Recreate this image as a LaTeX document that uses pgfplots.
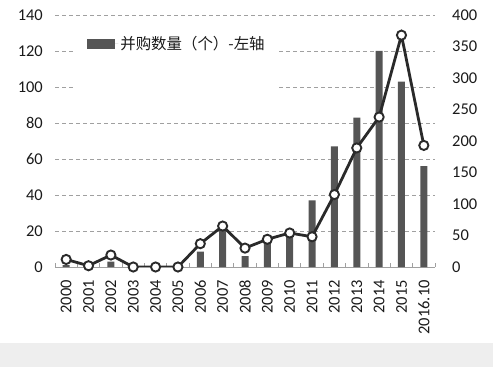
\documentclass[border=0pt]{standalone}
\usepackage{pgfplots}
\pgfplotsset{compat=1.18}
\usepackage{fontspec}
\setmainfont{Carlito}
\newfontfamily\cjk{Noto Sans CJK SC}
\definecolor{barc}{HTML}{555555}
\definecolor{linec}{HTML}{2A2A2A}
\definecolor{gridc}{HTML}{A0A0A0}
\definecolor{txt}{HTML}{1A1A1A}
\definecolor{band}{HTML}{EEEEEE}
\begin{document}
\begin{tikzpicture}
\fill[band] (-55bp,-100bp) rectangle (438bp,-76bp);
\begin{axis}[
  scale only axis, width=380bp, height=252bp,
  at={(0,0)}, anchor=south west,
  xmin=-0.5, xmax=16.5, ymin=0, ymax=140,
  font=\fontsize{16.5}{19}\selectfont, text=txt,
  /pgf/number format/assume math mode=true,
  ytick={0,20,...,140},
  xtick={0,...,16},
  xticklabels={2000,2001,2002,2003,2004,2005,2006,2007,2008,2009,2010,2011,2012,2013,2014,2015,2016.10},
  xticklabel style={rotate=90, anchor=east, inner sep=0pt},
  xticklabel shift=13bp,
  yticklabel style={inner sep=0pt},
  yticklabel shift=12bp,
  minor xtick={-0.5,0.5,...,16.5},
  tick align=inside,
  major tick length=0pt,
  minor tick length=4bp,
  minor x tick style={gridc, line width=0.8bp},
  axis x line*=bottom,
  axis y line*=left,
  x axis line style={gridc, line width=1bp},
  y axis line style={draw=none},
  ymajorgrids,
  grid style={gridc, dash pattern=on 4bp off 3bp, line width=0.8bp},
  legend style={at={(0.053,0.94)}, anchor=north west, draw=none, fill=white,
    font=\cjk\fontsize{15.5}{19}\selectfont, row sep=20bp, inner xsep=12bp, inner ysep=4bp},
  legend cell align=left,
]
\addplot[ybar, bar width=7bp, fill=barc, draw=none,
  legend image code/.code={\fill[barc] (0bp,-5bp) rectangle (28bp,5bp); \path (0bp,0bp) -- (31bp,0bp);}]
  coordinates {(0,1) (1,0) (2,3) (3,0) (4,0) (5,0) (6,8.5) (7,21) (8,6) (9,15) (10,18) (11,37) (12,67) (13,83) (14,120) (15,103) (16,56)};
\addlegendentry{并购数量（个）-左轴}
\addlegendimage{empty legend}
\addlegendentry{\phantom{X}}
\end{axis}
\begin{axis}[
  scale only axis, width=380bp, height=252bp,
  at={(0,0)}, anchor=south west,
  xmin=-0.5, xmax=16.5, ymin=0, ymax=400,
  font=\fontsize{16.5}{19}\selectfont, text=txt,
  /pgf/number format/assume math mode=true,
  ytick={0,50,...,400},
  axis x line=none,
  axis y line*=right,
  y axis line style={draw=none},
  major tick length=0pt,
  yticklabel style={inner sep=0pt, anchor=west},
  yticklabel shift=17bp,
]
\addplot[linec, line width=2.8bp, mark=*, mark size=4.6bp,
  mark options={fill=white, draw=linec, line width=1.9bp}]
  coordinates {(0,12) (1,2) (2,19) (3,0) (4,0) (5,0) (6,37) (7,65) (8,30) (9,44) (10,54) (11,48) (12,115) (13,189) (14,238) (15,368) (16,193)};
\end{axis}
\pgfresetboundingbox
\useasboundingbox (-55bp,-100bp) rectangle (438bp,267bp);
\end{tikzpicture}
\end{document}
